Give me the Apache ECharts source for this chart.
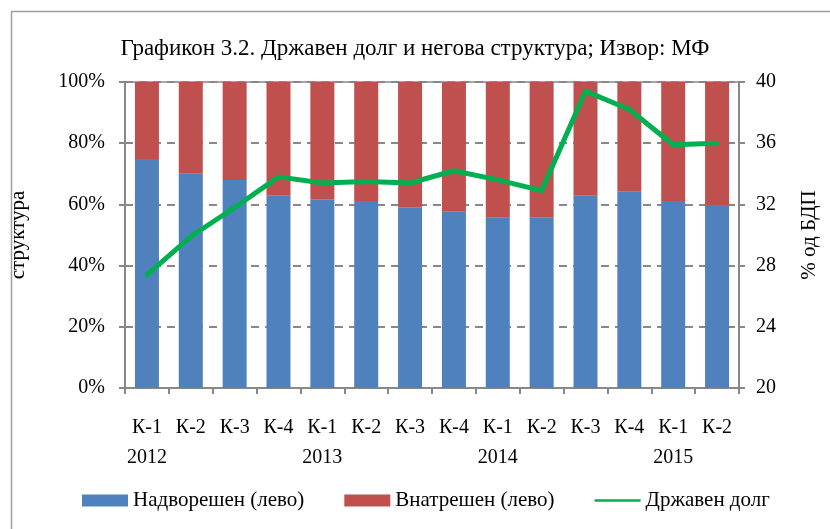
<!DOCTYPE html>
<html>
<head>
<meta charset="utf-8">
<script src="https://cdn.jsdelivr.net/npm/echarts@6/dist/echarts.min.js"></script>
<style>
  html, body { margin: 0; padding: 0; background: #fff; }
  #chart { width: 830px; height: 529px; }
</style>
</head>
<body>
<div id="chart"></div>
<script>
// категории (квартали и години)
const quarters = ["К-1", "К-2", "К-3", "К-4", "К-1", "К-2", "К-3", "К-4", "К-1", "К-2", "К-3", "К-4", "К-1", "К-2"];
const years = ["2012", "", "", "", "2013", "", "", "", "2014", "", "", "", "2015", ""];
// структура на долгот (%)
const external = [74.8, 70.0, 68.0, 62.8, 61.7, 61.1, 59.1, 57.6, 55.6, 55.6, 62.8, 64.1, 61.1, 59.8];
const domestic = [25.2, 30.0, 32.0, 37.2, 38.3, 38.9, 40.9, 42.4, 44.4, 44.4, 37.2, 35.9, 38.9, 40.2];
// државен долг, % од БДП
const debt = [27.4, 29.9, 31.8, 33.8, 33.4, 33.5, 33.4, 34.2, 33.6, 32.9, 39.4, 38.2, 35.9, 36.0];
const leftTicks = [0, 20, 40, 60, 80, 100];
const rightTicks = [20, 24, 28, 32, 36, 40];

const FONT = "Liberation Serif";
const categories = quarters.map((q, i) => (years[i] ? q + "\n" + years[i] : q));

const chart = echarts.init(document.getElementById("chart"));
chart.setOption({
  animation: false,
  textStyle: { fontFamily: FONT, color: "#000" },
  title: {
    text: "Графикон 3.2. Државен долг и негова структура; Извор: МФ",
    left: "center",
    top: 32,
    textStyle: { fontFamily: FONT, fontSize: 23, fontWeight: "normal", color: "#000" },
  },
  graphic: [
    {
      type: "rect",
      left: 9,
      top: 9,
      shape: { width: 900, height: 600 },
      style: { fill: "none", stroke: "#a0a0a0", lineWidth: 1.5 },
    },
  ],
  grid: {
    left: 121,
    right: 91,
    top: 82,
    bottom: 141,
    show: true,
    borderColor: "#888",
    borderWidth: 1.5,
    backgroundColor: "transparent",
  },
  legend: {
    left: 77,
    top: 485,
    itemWidth: 46,
    itemHeight: 12,
    itemGap: 40,
    textStyle: { fontFamily: FONT, fontSize: 21, color: "#000" },
    data: [
      { name: "Надворешен (лево)", icon: "rect" },
      { name: "Внатрешен (лево)", icon: "rect" },
      { name: "Државен долг", icon: "path://M0,0 L46,0 L46,2.5 L0,2.5 Z" },
    ],
  },
  xAxis: {
    type: "category",
    data: categories,
    axisLine: { lineStyle: { color: "#888", width: 2 } },
    axisTick: { show: true, length: 6, lineStyle: { color: "#888", width: 2 } },
    axisLabel: {
      interval: 0,
      margin: 25,
      color: "#000",
      fontFamily: FONT,
      fontSize: 20,
      lineHeight: 30,
    },
  },
  yAxis: [
    {
      type: "value",
      min: leftTicks[0],
      max: leftTicks[leftTicks.length - 1],
      interval: 20,
      name: "структура",
      nameLocation: "middle",
      nameRotate: 90,
      nameGap: 96,
      nameTextStyle: { fontFamily: FONT, fontSize: 21, color: "#000" },
      axisLine: { show: true, lineStyle: { color: "#888", width: 2 } },
      axisTick: { show: true, length: 6, lineStyle: { color: "#888", width: 2 } },
      axisLabel: { formatter: "{value}%", margin: 20, color: "#000", fontFamily: FONT, fontSize: 20 },
      splitLine: { show: true, lineStyle: { color: "#888", width: 2, type: [8, 6] } },
    },
    {
      type: "value",
      min: rightTicks[0],
      max: rightTicks[rightTicks.length - 1],
      interval: 4,
      name: "% од БДП",
      nameLocation: "middle",
      nameRotate: 90,
      nameGap: 60,
      nameTextStyle: { fontFamily: FONT, fontSize: 21, color: "#000" },
      axisLine: { show: true, lineStyle: { color: "#888", width: 2 } },
      axisTick: { show: true, length: 6, lineStyle: { color: "#888", width: 2 } },
      axisLabel: { margin: 17, color: "#000", fontFamily: FONT, fontSize: 20 },
      splitLine: { show: false },
    },
  ],
  series: [
    {
      name: "Надворешен (лево)",
      type: "bar",
      stack: "s",
      barWidth: 24,
      data: external,
      itemStyle: { color: "#4F81BD" },
    },
    {
      name: "Внатрешен (лево)",
      type: "bar",
      stack: "s",
      barWidth: 24,
      data: domestic,
      itemStyle: { color: "#C0504D" },
    },
    {
      name: "Државен долг",
      type: "line",
      yAxisIndex: 1,
      data: debt,
      showSymbol: false,
      symbol: "none",
      lineStyle: { color: "#00B050", width: 5, join: "round", cap: "round" },
      itemStyle: { color: "#00B050" },
      z: 5,
    },
  ],
});
</script>
</body>
</html>
